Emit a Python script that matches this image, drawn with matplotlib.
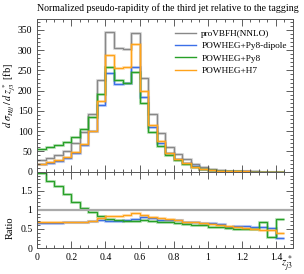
import numpy as np
import matplotlib
matplotlib.use("Agg")
import matplotlib.pyplot as plt
from matplotlib.ticker import MultipleLocator, FixedLocator

plt.rcParams['font.family'] = ['Liberation Serif', 'DejaVu Serif']
plt.rcParams['mathtext.fontset'] = 'stix'

# bins of z*_j3, width 0.05, from 0 to 1.45
edges = np.linspace(0.0, 1.45, 30)

nnlo = [29, 34, 41, 52, 70, 99, 143, 226, 346, 305, 303, 343, 231, 142,
        95, 62, 43, 31, 19, 12, 7.0, 4.2, 2.6, 1.6, 1.0, 0.65, 0.42, 0.28, 0.18]
py8_dipole = [19, 22.5, 27, 35, 47, 67, 101, 165, 243, 217, 220, 259, 185, 111,
              70, 46, 31, 21.4, 13.1, 7.8, 4.55, 2.6, 1.46, 0.93, 0.58, 0.35, 0.23, 0.146, 0.045]
py8 = [57, 60, 67, 74, 85, 105, 134, 191, 259, 226, 218, 247, 169, 99,
       64, 41.5, 28, 19.5, 11.4, 7.1, 3.9, 2.27, 1.33, 0.78, 0.49, 0.32, 0.29, 0.084, 0.137]
h7 = [20, 23, 28, 36, 48, 68, 101, 175, 288, 255, 259, 315, 199, 115,
      75, 47, 31, 21.5, 12.7, 7.8, 4.4, 2.55, 1.5, 0.86, 0.53, 0.33, 0.2, 0.13, 0.072]

labels = ['proVBFH(NNLO)', 'POWHEG+Py8-dipole', 'POWHEG+Py8', 'POWHEG+H7']
colors = ['#888888', '#3b6fe8', '#27a027', '#ffa31a']
series = [nnlo, py8_dipole, py8, h7]

W, H = 304, 274
fig = plt.figure(figsize=(W / 100, H / 100), dpi=100)
x0, x1 = 37.3 / W, 293 / W
ax = fig.add_axes([x0, 1 - 171.7 / H, x1 - x0, (171.7 - 19) / H])
rax = fig.add_axes([x0, 1 - 248 / H, x1 - x0, (248 - 171.7) / H])

ref = np.array(nnlo)
for vals, lab, col in zip(series, labels, colors):
    v = np.array(vals)
    ax.stairs(v, edges, color=col, lw=2.2, alpha=0.25, baseline=None)
    ax.stairs(v, edges, color=col, lw=1.0, label=lab, baseline=None)
    r = v / ref
    if lab == labels[0]:
        continue
    rax.stairs(r, edges, color=col, lw=2.2, alpha=0.25, baseline=None)
    rax.stairs(r, edges, color=col, lw=1.0, baseline=None)
rax.axhline(1.0, color='#aaaaaa', lw=1.6)

ax.set_xlim(0, 1.5)
ax.set_ylim(0, 377)
rax.set_xlim(0, 1.5)
rax.set_ylim(0, 2.0)

for a in (ax, rax):
    a.tick_params(which='both', direction='in', top=True, right=True,
                  labelsize=7, colors='#444444', width=0.6)
    a.tick_params(which='major', length=5)
    a.tick_params(which='minor', length=2.5)
    a.xaxis.set_major_locator(MultipleLocator(0.2))
    a.xaxis.set_minor_locator(MultipleLocator(0.05))
    for s in a.spines.values():
        s.set_color('#555555')
        s.set_linewidth(0.7)

ax.yaxis.set_major_locator(MultipleLocator(50))
ax.yaxis.set_minor_locator(MultipleLocator(10))
ax.set_xticklabels([])
rax.yaxis.set_major_locator(FixedLocator([0, 0.5, 1, 1.5]))
rax.yaxis.set_minor_locator(MultipleLocator(0.1))
rax.set_xticks([0, 0.2, 0.4, 0.6, 0.8, 1.0, 1.2, 1.4])
rax.set_xticklabels(['0', '0.2', '0.4', '0.6', '0.8', '1', '1.2', '1.4'])
rax.set_yticklabels(['0', '0.5', '1', '1.5'])
for a in (ax, rax):
    for t in a.get_xticklabels() + a.get_yticklabels():
        t.set_color('black')

fig.text(x0, 1 - 8 / H, 'Normalized pseudo-rapidity of the third jet relative to the tagging',
         fontsize=7.1, ha='left', va='center')
fig.text(10 / W, 1 - 95 / H, r'$d\;\sigma_{Hjj}\,/\,d\;z^*_{j3}$ [fb]', rotation=90,
         fontsize=7.5, ha='center', va='center')
fig.text(10 / W, 1 - 228 / H, 'Ratio', rotation=90, fontsize=7.5, ha='center', va='center')
fig.text(293 / W, 1 - 264 / H, r'$z^*_{j3}$', fontsize=8, ha='right', va='center')

ax.legend(loc='upper left', bbox_to_anchor=(0.525, 0.955), frameon=False, fontsize=6.7,
          handlelength=2.2, handletextpad=0.6, labelspacing=0.4, borderaxespad=0)

fig.savefig('out.png', dpi=100)
